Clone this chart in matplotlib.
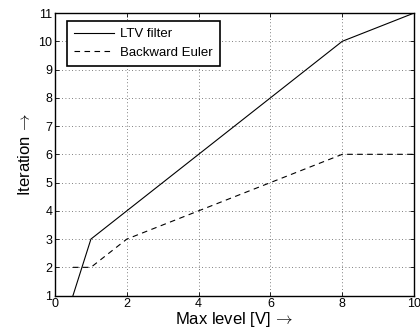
import matplotlib.pyplot as plt

plt.rcParams['font.family'] = ['Liberation Sans', 'DejaVu Sans']
plt.rcParams['mathtext.fontset'] = 'cm'

max_level = [0.5, 1, 2, 4, 6, 8, 10]
ltv_iter = [1, 3, 4, 6, 8, 10, 11]
euler_iter = [2, 2, 3, 4, 5, 6, 6]

fig = plt.figure(figsize=(4.2, 3.34), dpi=100)
ax = fig.add_axes([0.131, 0.115, 0.855, 0.846])

ax.plot(max_level, ltv_iter, color='black', linewidth=0.8, linestyle='-', label='LTV filter')
ax.plot(max_level, euler_iter, color='black', linewidth=0.8, linestyle=(0, (5, 4)), label='Backward Euler')

ax.set_xlim(0, 10)
ax.set_ylim(1, 11)
ax.set_xticks([0, 2, 4, 6, 8, 10])
ax.set_yticks(range(1, 12))
ax.grid(True, linestyle=(0, (1, 3)), color='#555555', linewidth=0.6)
ax.tick_params(direction='in', top=True, right=True, length=3, width=0.6, labelsize=9, pad=2)
for s in ax.spines.values():
    s.set_linewidth(1.0)

ax.set_xlabel('Max level [V]$\\,\\rightarrow$', fontsize=12, labelpad=0)
ax.set_ylabel('Iteration$\\,\\rightarrow$', fontsize=12, labelpad=4)

leg = ax.legend(loc='upper left', bbox_to_anchor=(0.033, 0.972), borderaxespad=0,
                fontsize=9.5, fancybox=False, edgecolor='black', framealpha=1,
                handlelength=3.0, handletextpad=0.45, borderpad=0.55, labelspacing=0.45)
leg.get_frame().set_linewidth(1.2)

fig.savefig('out.png', dpi=100)
